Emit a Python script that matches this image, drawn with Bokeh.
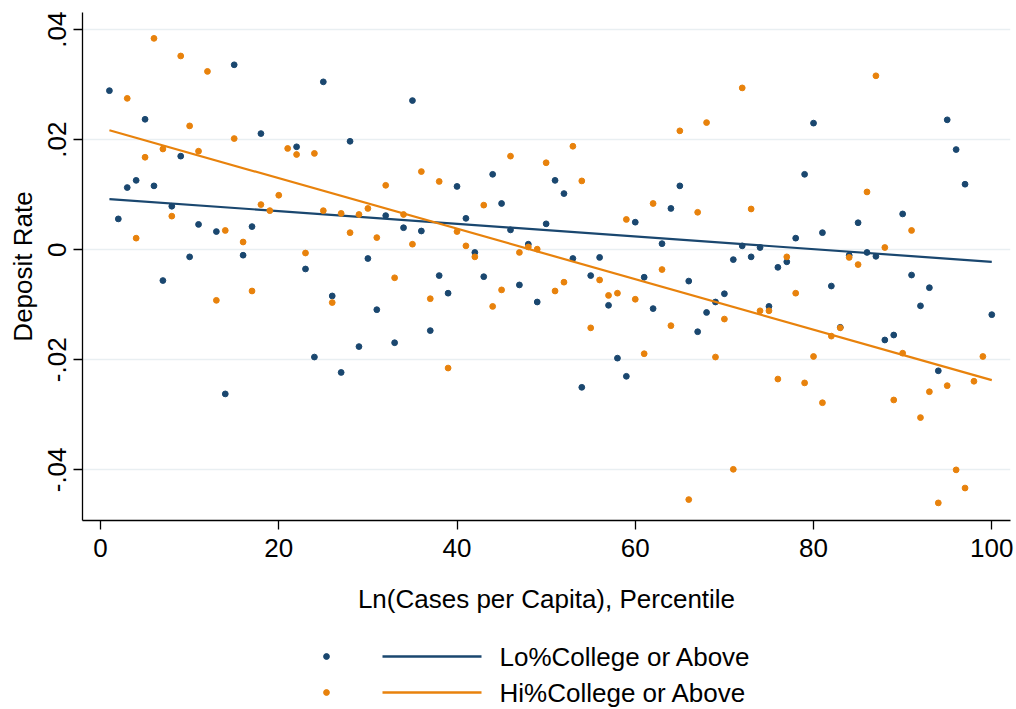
import numpy as np
from bokeh.plotting import figure
from bokeh.layouts import column
from bokeh.models import Range1d, FixedTicker
from bokeh.embed import file_html
from bokeh.resources import INLINE
from bokeh.core.properties import value

nan = float("nan")

# ---------------- data ----------------
percentile = list(range(1, 101))

lo_rate = [
    0.0289, 0.0056, 0.0113, 0.0126, 0.0237, 0.0116, -0.0056, 0.0079, 0.0170, -0.0013,
    0.0046, nan, 0.0033, -0.0262, 0.0336, -0.0010, 0.0042, 0.0211, nan, nan,
    nan, 0.0187, -0.0035, -0.0195, 0.0305, -0.0084, -0.0223, 0.0197, -0.0176, -0.0016,
    -0.0109, 0.0062, -0.0169, 0.0040, 0.0271, 0.0034, -0.0147, -0.0047, -0.0079, 0.0115,
    0.0057, -0.0005, -0.0049, 0.0137, 0.0084, 0.0036, -0.0064, 0.0010, -0.0095, 0.0047,
    0.0126, 0.0102, -0.0016, -0.0250, -0.0047, -0.0014, -0.0101, -0.0197, -0.0230, 0.0050,
    -0.0050, -0.0107, 0.0011, 0.0075, 0.0116, -0.0057, -0.0149, -0.0114, -0.0095, -0.0080,
    -0.0018, 0.0007, -0.0013, 0.0004, -0.0103, -0.0032, -0.0022, 0.0021, 0.0137, 0.0230,
    0.0031, -0.0066, -0.0141, -0.0010, 0.0049, -0.0005, -0.0012, -0.0164, -0.0155, 0.0065,
    -0.0046, -0.0102, -0.0069, -0.0220, 0.0236, 0.0182, 0.0119, nan, nan, -0.0118,
]

hi_rate = [
    nan, nan, 0.0275, 0.0021, 0.0168, 0.0384, 0.0183, 0.0061, 0.0352, 0.0225,
    0.0179, 0.0324, -0.0092, 0.0035, 0.0202, 0.0014, -0.0075, 0.0082, 0.0071, 0.0099,
    0.0184, 0.0173, -0.0006, 0.0175, 0.0071, -0.0096, 0.0066, 0.0031, 0.0064, 0.0075,
    0.0022, 0.0117, -0.0051, 0.0064, 0.0010, 0.0142, -0.0089, 0.0124, -0.0215, 0.0033,
    0.0007, -0.0013, 0.0081, -0.0103, -0.0073, 0.0170, -0.0005, 0.0005, 0.0001, 0.0158,
    -0.0075, -0.0059, 0.0188, 0.0125, -0.0142, -0.0055, -0.0083, -0.0079, 0.0055, -0.0090,
    -0.0189, 0.0084, -0.0036, -0.0138, 0.0216, -0.0454, 0.0068, 0.0231, -0.0195, -0.0126,
    -0.0399, 0.0294, 0.0074, -0.0111, -0.0111, -0.0235, -0.0013, -0.0079, -0.0242, -0.0194,
    -0.0278, -0.0157, -0.0142, -0.0014, -0.0027, 0.0105, 0.0316, 0.0004, -0.0273, -0.0188,
    0.0035, -0.0305, -0.0258, -0.0460, -0.0247, -0.0400, -0.0433, -0.0239, -0.0194, nan,
]

fit_x = [1, 100]
lo_fit = [0.0092, -0.0022]
hi_fit = [0.0217, -0.0237]

x_ticks = [0, 20, 40, 60, 80, 100]
y_ticks = [-0.04, -0.02, 0.0, 0.02, 0.04]
y_tick_labels = ["-.04", "-.02", "0", ".02", ".04"]
series_names = ["Lo%College or Above", "Hi%College or Above"]
x_title = "Ln(Cases per Capita), Percentile"
y_title = "Deposit Rate"

# ---------------- style ----------------
NAVY = "#1a476f"
ORANGE = "#e8820c"
GRID = "#e9eff2"
FONT = "Liberation Sans"
FS = "26px"

p = figure(
    width=1016, height=625,
    x_range=Range1d(-2.02, 102.1), y_range=Range1d(-0.0492, 0.0431),
    output_backend="svg", toolbar_location=None,
    min_border_left=82, min_border_right=6, min_border_top=12, min_border_bottom=105,
)
p.outline_line_color = None
p.background_fill_color = "white"
p.border_fill_color = "white"

p.xgrid.visible = False
p.ygrid.ticker = FixedTicker(ticks=y_ticks)
p.ygrid.grid_line_color = GRID
p.ygrid.grid_line_width = 1.6

for ax in (p.xaxis[0], p.yaxis[0]):
    ax.axis_line_color = "black"
    ax.axis_line_width = 1.3
    ax.major_tick_line_color = "black"
    ax.major_tick_line_width = 1.3
    ax.major_tick_out = 9
    ax.major_tick_in = 0
    ax.minor_tick_line_color = None
    ax.major_label_text_font = FONT
    ax.major_label_text_font_size = FS
    ax.major_label_text_color = "black"
    ax.axis_label_text_font = FONT
    ax.axis_label_text_font_size = FS
    ax.axis_label_text_font_style = "normal"
    ax.axis_label_text_color = "black"

p.xaxis.ticker = FixedTicker(ticks=x_ticks)
p.xaxis.axis_label = x_title
p.xaxis.major_label_standoff = 9
p.xaxis.axis_label_standoff = 24

p.yaxis.ticker = FixedTicker(ticks=y_ticks)
p.yaxis.major_label_overrides = {t: l for t, l in zip(y_ticks, y_tick_labels)}
p.yaxis.major_label_orientation = "vertical"
p.yaxis.axis_label = y_title
p.yaxis.major_label_standoff = 7
p.yaxis.axis_label_standoff = 8

x = np.array(percentile, dtype=float)
p.scatter(x, np.array(lo_rate), size=5.8, fill_color=NAVY, line_color=NAVY)
p.line(fit_x, lo_fit, line_color=NAVY, line_width=2.2)
p.scatter(x, np.array(hi_rate), size=5.8, fill_color=ORANGE, line_color=ORANGE)
p.line(fit_x, hi_fit, line_color=ORANGE, line_width=2.2)

# ---------------- legend (separate strip below; frame aligned with main frame) ----------------
leg = figure(
    width=1016, height=84,
    x_range=Range1d(82, 1010), y_range=Range1d(84, 0),
    output_backend="svg", toolbar_location=None,
    min_border_left=82, min_border_right=6, min_border_top=0, min_border_bottom=0,
)
leg.axis.visible = False
leg.grid.visible = False
leg.outline_line_color = None

row_y = [31, 67]
colors = [NAVY, ORANGE]
leg.scatter([326, 326], row_y, size=5.8, fill_color=colors, line_color=colors)
leg.segment(x0=[382, 382], y0=row_y, x1=[481, 481], y1=row_y, line_color=colors, line_width=2.5)
leg.text(x=[499, 499], y=row_y, text=series_names, text_baseline="middle", text_align="left",
         text_font=value(FONT), text_font_size=FS, text_color="black")

layout = column(p, leg, spacing=0)
open("out.html", "w").write(file_html(layout, INLINE))
